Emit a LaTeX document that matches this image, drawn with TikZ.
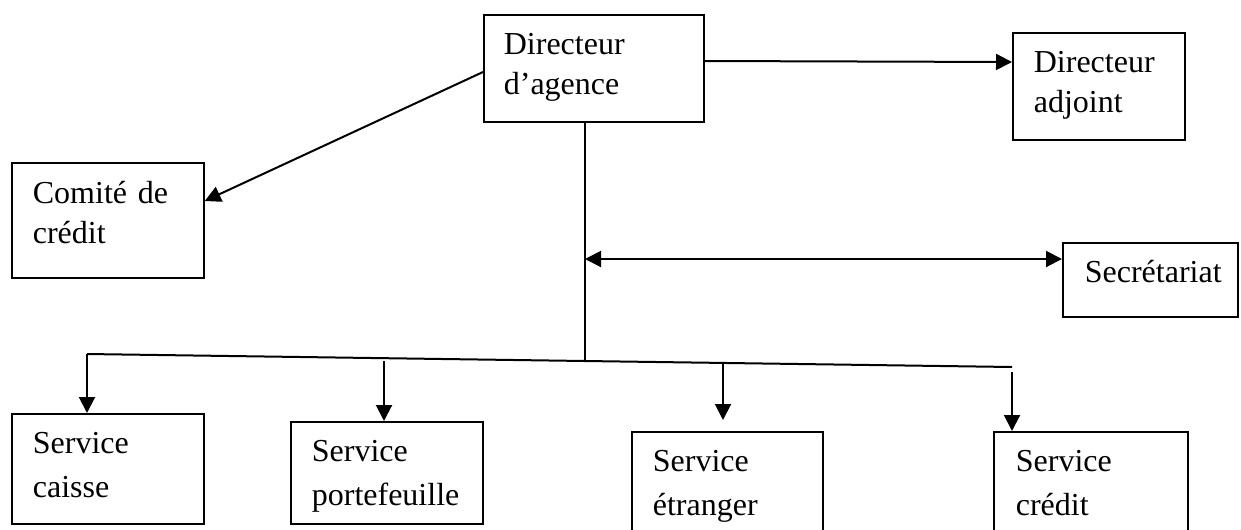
\documentclass[tikz,border=0pt]{standalone}
\usepackage{fontspec}
\setmainfont{Liberation Serif}
\usetikzlibrary{arrows.meta,calc}
\begin{document}
\begin{tikzpicture}[x=0.75pt,y=-0.75pt,
  orgbox/.style={draw, line width=1.3pt, rectangle, anchor=north west, inner ysep=0pt, align=left,
    font=\fontsize{24}{30}\selectfont},
  svcbox/.style={orgbox, font=\fontsize{24}{32.5}\selectfont},
  conn/.style={line width=1.5pt},
  arr/.style={conn, -{Triangle[length=12pt,width=12pt]}},
  darr/.style={conn, {Triangle[length=12pt,width=12pt]}-{Triangle[length=12pt,width=12pt]}}]
\useasboundingbox (0,0) rectangle (1241,529);

% top level boxes
\node[orgbox, inner xsep=15pt, text width=135pt, text height=30pt, text depth=50.25pt]
  (da) at (483,14) {Directeur\\d’agence};
\node[orgbox, inner xsep=15.75pt, text width=97.5pt, text height=30pt, text depth=50.25pt]
  (adj) at (1012,32) {Directeur\\adjoint};
\node[orgbox, inner xsep=15.75pt, text width=112.5pt, text height=30.75pt, text depth=55.5pt]
  (com) at (11,162) {Comité de\\crédit};
\node[orgbox, inner xsep=16.5pt, text width=98.25pt, text height=30pt, text depth=25.5pt]
  (sec) at (1062,242) {\mbox{Secrétariat}};

% service boxes
\node[svcbox, inner xsep=15.75pt, text width=112.5pt, text height=30pt, text depth=52.5pt]
  (cai) at (11,413) {Service\\caisse};
\node[svcbox, inner xsep=15.75pt, text width=112.5pt, text height=30pt, text depth=46.5pt,
  font=\fontsize{24}{33}\selectfont]
  (por) at (290,421) {Service\\\mbox{portefeuille}};
\node[svcbox, inner xsep=15.75pt, text width=111.75pt, text height=30pt, text depth=70pt]
  (etr) at (631,431) {Service\\étranger};
\node[svcbox, inner xsep=16.5pt, text width=112.5pt, text height=30pt, text depth=70pt]
  (cre) at (993,431) {Service\\crédit};

% coordinates
\coordinate (vtop) at ($(da.south west)+(102,0)$);
\coordinate (vsec) at (585,259);
\coordinate (jn) at (585,361);
\coordinate (hl) at (87,354);
\coordinate (hr) at (1012,367);
\coordinate (pst) at (384,361);
\coordinate (est) at (723,363);
\coordinate (eend) at (723,420);
\coordinate (cst) at (1012,372);

% connectors
\draw[arr] ($(da.north west)+(0,58)$) -- ($(com.north east)+(0,39)$);
\draw[arr] ($(da.north east)+(0,47)$) -- ($(adj.north west)+(0,30)$);
\draw[conn] (vtop) -- (jn);
\draw[darr] (vsec) -- ($(sec.north west)+(0,17)$);
\draw[conn] (hl) -- (hr);
\draw[arr] (hl) -- (hl |- cai.north);
\draw[arr] (pst) -- (pst |- por.north);
\draw[arr] (est) -- (eend);
\draw[arr] (cst) -- (cst |- cre.north);
\end{tikzpicture}
\end{document}
